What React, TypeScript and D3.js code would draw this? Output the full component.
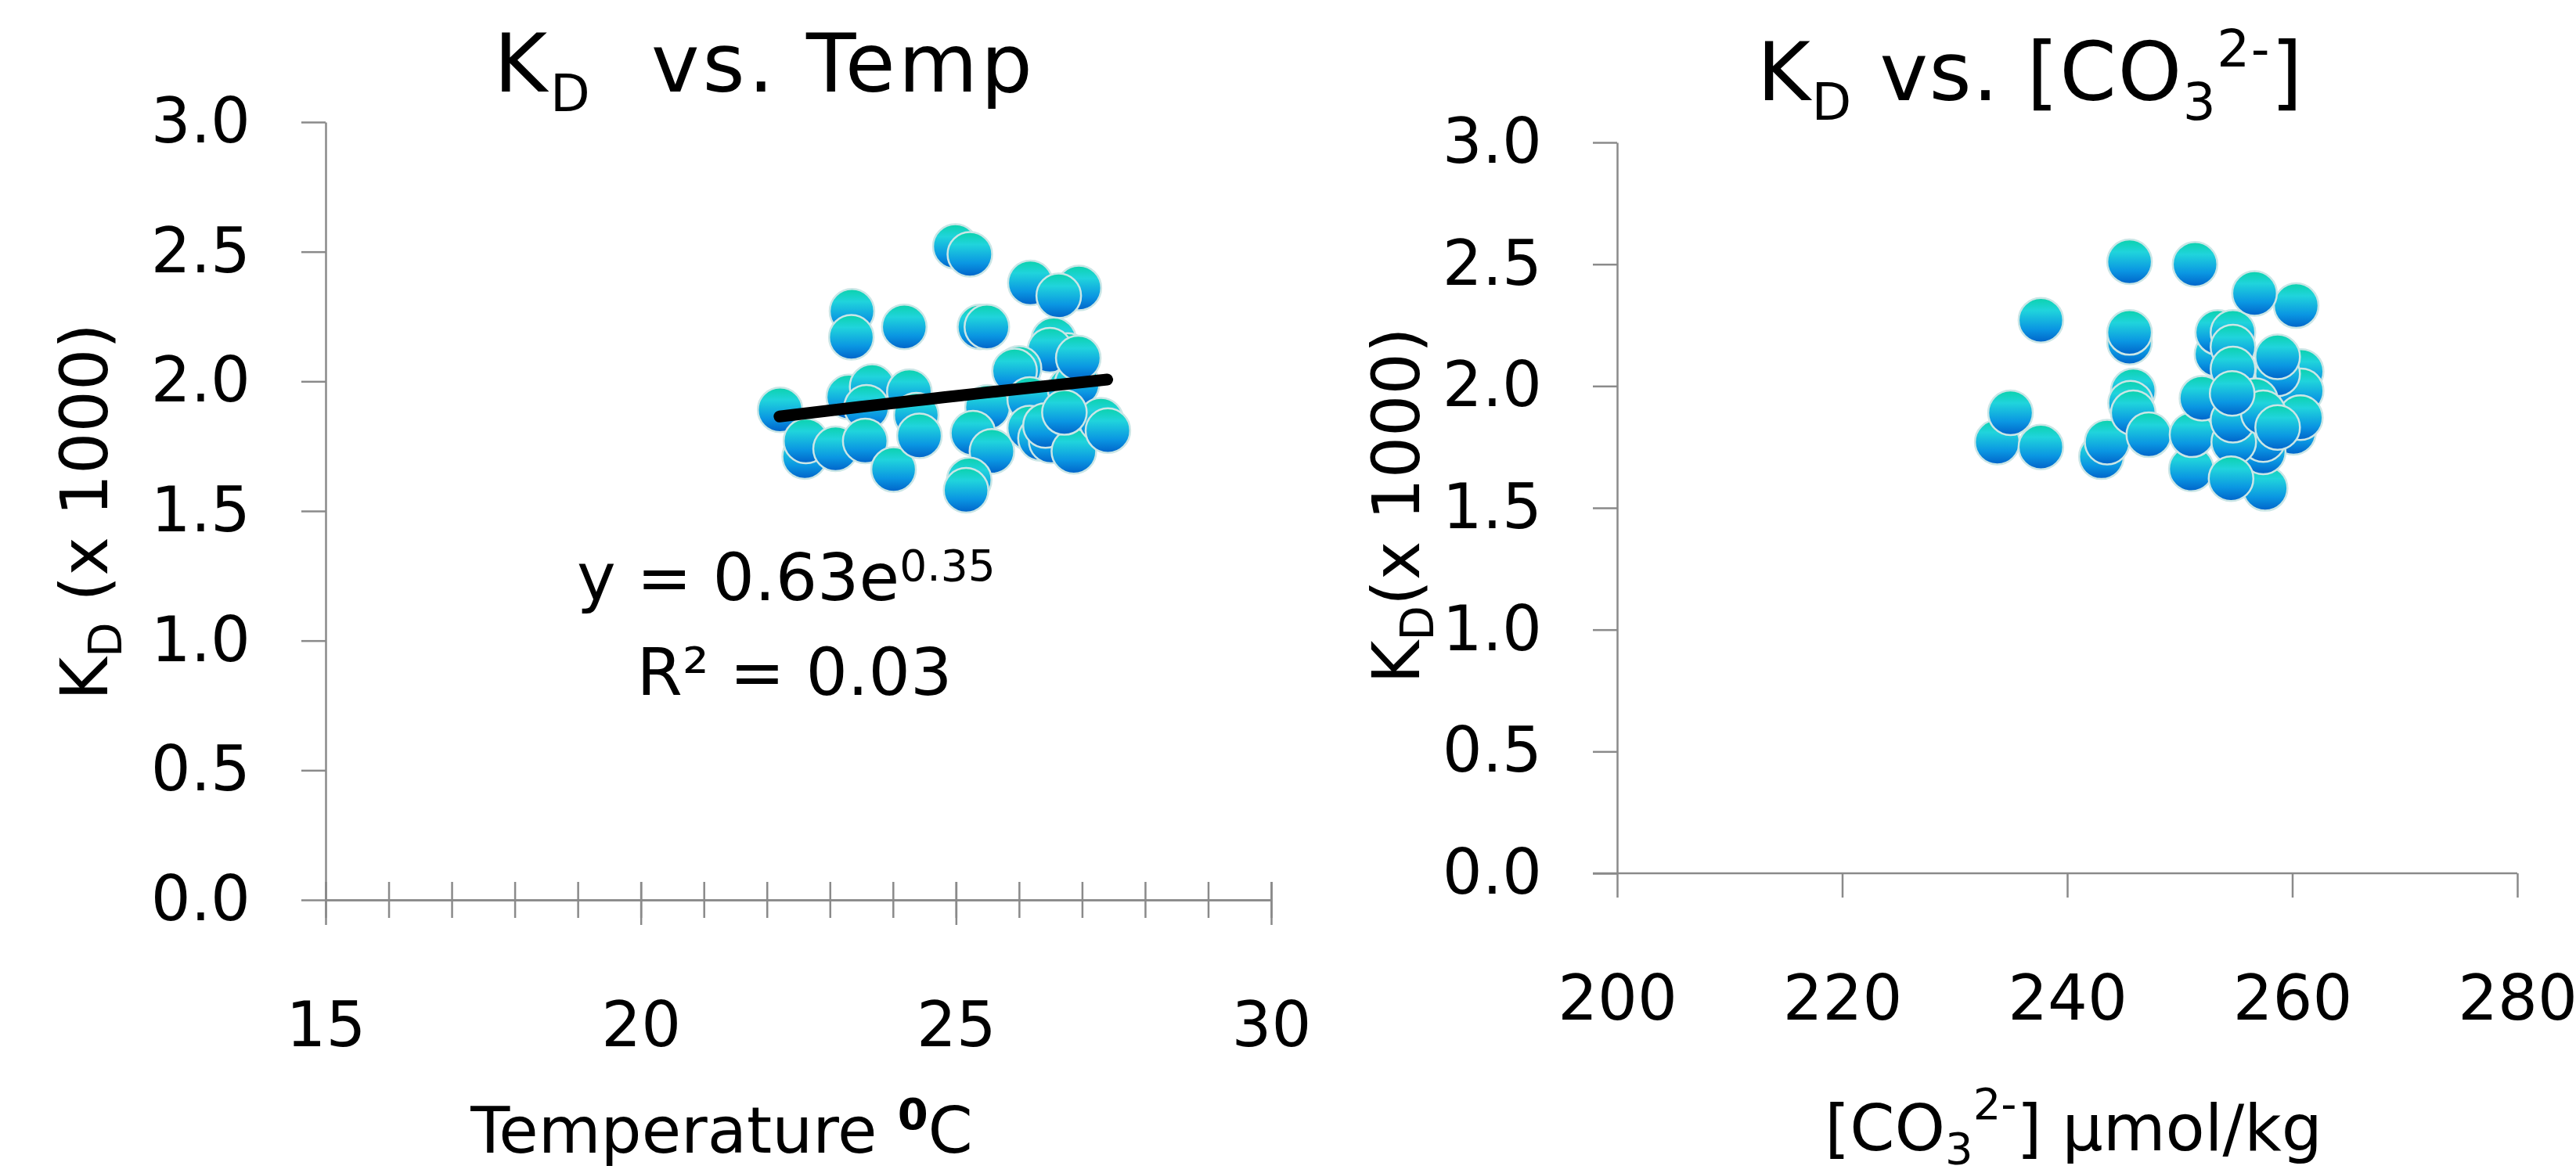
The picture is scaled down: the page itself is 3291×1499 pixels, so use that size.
import { useEffect, useRef } from 'react';
import * as d3 from 'd3';

const WIDTH = 3291;
const HEIGHT = 1499;
const FONT = '"DejaVu Sans", "Liberation Sans", sans-serif';
const AXIS_COLOR = '#8a8a8a';

// left panel: K_D (x 1000) against temperature
const tempC = [
  24.99, 25.22, 26.18, 26.95, 26.63, 23.35, 23.34, 24.18, 25.38, 25.49, 26.55, 26.77,
  26.49, 26.0, 25.93, 22.21, 23.3, 23.67, 24.26, 23.58, 24.37, 22.6, 22.62, 23.09,
  23.56, 24.01, 24.42, 25.5, 25.27, 25.57, 25.21, 25.16, 26.17, 26.81, 26.92, 26.17,
  26.34, 26.51, 26.42, 26.87, 27.3, 27.41, 26.72, 26.94,
];
const tempKd = [
  2.52, 2.49, 2.38, 2.36, 2.33, 2.27, 2.17, 2.21, 2.21, 2.21, 2.16, 2.1,
  2.12, 2.05, 2.04, 1.89, 1.94, 1.98, 1.96, 1.9, 1.87, 1.71, 1.77, 1.74,
  1.77, 1.66, 1.79, 1.9, 1.8, 1.73, 1.62, 1.58, 1.93, 1.97, 1.99, 1.82,
  1.78, 1.77, 1.83, 1.73, 1.85, 1.81, 1.88, 2.09,
];
// power fit printed on the chart
const fitCoef = 0.63;
const fitExp = 0.35;
const fitFrom = 22.2;
const fitTo = 27.4;

// right panel: K_D (x 1000) against carbonate ion
const co3 = [
  233.78, 234.96, 237.66, 237.66, 243.04, 243.55, 245.54, 245.54, 245.54, 245.87,
  245.63, 245.87, 247.25, 251.36, 251.03, 251.09, 251.97, 253.31, 253.38, 254.73,
  254.73, 260.79, 260.79, 260.11, 260.72, 260.35, 256.65, 258.7, 258.7, 254.73,
  256.74, 257.59, 257.42, 257.42, 254.8, 254.73, 257.42, 254.66, 258.7, 254.56,
];
const co3Kd = [
  1.77, 1.89, 1.75, 2.27, 1.71, 1.77, 2.18, 2.22, 2.51, 1.98,
  1.93, 1.89, 1.8, 2.5, 1.66, 1.8, 1.95, 2.13, 2.22, 2.22,
  2.16, 2.06, 1.98, 1.81, 1.87, 2.33, 2.38, 2.05, 2.12, 2.07,
  1.94, 1.58, 1.73, 1.78, 1.77, 1.86, 1.89, 1.97, 1.83, 1.62,
];

const yTicks = [0, 0.5, 1, 1.5, 2, 2.5, 3];
const tempTicks = [15, 20, 25, 30];
const tempMinorTicks = d3.range(15, 31, 1);
const co3Ticks = [200, 220, 240, 260, 280];

const styleAxis = (sel) => {
  sel.select('.domain').attr('stroke', AXIS_COLOR).attr('stroke-width', 2.5);
  sel.selectAll('.tick line').attr('stroke', AXIS_COLOR).attr('stroke-width', 2.5);
  sel
    .selectAll('.tick text')
    .attr('fill', '#000')
    .style('font-family', FONT)
    .style('font-size', '80px');
  sel.attr('font-family', null).attr('font-size', null);
};

const drawPoints = (g, x, y, xs, ys) => {
  g.append('g')
    .selectAll('circle')
    .data(xs.map((v, i) => [v, ys[i]]))
    .join('circle')
    .attr('cx', (d) => x(d[0]))
    .attr('cy', (d) => y(d[1]))
    .attr('r', 28.5)
    .attr('fill', 'url(#ballGrad)')
    .attr('stroke', '#cbe6e6')
    .attr('stroke-width', 2.5);
};

const drawYAxis = (g, x, y, lx, ly, gap) => {
  g.append('g')
    .attr('transform', `translate(${x.range()[0]},0)`)
    .call(
      d3.axisLeft(y).tickValues(yTicks).tickSize(31).tickSizeOuter(0)
        .tickPadding(65).tickFormat(d3.format('.1f'))
    )
    .call(styleAxis);

  // K_D (x 1000)
  const t = g
    .append('text')
    .attr('transform', `translate(${lx},${ly}) rotate(-90)`)
    .attr('text-anchor', 'middle')
    .style('font-family', FONT)
    .style('font-size', '84px');
  t.append('tspan').text('K');
  t.append('tspan').attr('dy', 18).style('font-size', '58px').text('D');
  t.append('tspan').attr('dy', -18).text(`${gap}(x 1000)`);
};

const App = () => {
  const svgRef = useRef(null);

  useEffect(() => {
    document.body.style.margin = '0';
    const svg = d3.select(svgRef.current);
    svg.selectAll('*').remove();

    const defs = svg.append('defs');
    const grad = defs
      .append('linearGradient')
      .attr('id', 'ballGrad')
      .attr('x1', 0).attr('y1', 0).attr('x2', 0).attr('y2', 1);
    [
      ['0%', '#0bd2ac'],
      ['28%', '#20d4dc'],
      ['70%', '#0a96e2'],
      ['100%', '#0063c9'],
    ].forEach(([o, c]) => grad.append('stop').attr('offset', o).attr('stop-color', c));

    // ---------- left panel ----------
    const x1 = d3.scaleLinear().domain([15, 30]).range([416, 1624]);
    const y1 = d3.scaleLinear().domain([0, 3]).range([1150, 156]);
    const left = svg.append('g');

    drawYAxis(left, x1, y1, 137, 654, ' ');

    const minor = left
      .append('g')
      .attr('transform', `translate(0,${y1(0)})`)
      .call(d3.axisBottom(x1).tickValues(tempMinorTicks).tickSize(23).tickSizeOuter(0).tickFormat(() => ''))
      .call(styleAxis);
    minor.selectAll('.tick line').attr('y1', -23);

    const major = left
      .append('g')
      .attr('transform', `translate(0,${y1(0)})`)
      .call(d3.axisBottom(x1).tickValues(tempTicks).tickSize(32).tickSizeOuter(0).tickPadding(98).tickFormat(d3.format('d')))
      .call(styleAxis);
    major.selectAll('.tick line').attr('y1', -23);

    drawPoints(left, x1, y1, tempC, tempKd);

    const fitX = d3.range(0, 21).map((i) => fitFrom + ((fitTo - fitFrom) * i) / 20);
    left
      .append('path')
      .datum(fitX)
      .attr('fill', 'none')
      .attr('stroke', '#000')
      .attr('stroke-width', 15)
      .attr('stroke-linecap', 'round')
      .attr(
        'd',
        d3.line()
          .x((d) => x1(d))
          .y((d) => y1(fitCoef * Math.pow(d, fitExp)))
      );

    const eq = left
      .append('text')
      .attr('x', 737)
      .attr('y', 767)
      .style('font-family', FONT)
      .style('font-size', '84px');
    eq.append('tspan').text(`y = ${fitCoef}e`);
    eq.append('tspan').attr('dy', -25).style('font-size', '55px').text(`${fitExp}`);
    left
      .append('text')
      .attr('x', 1015)
      .attr('y', 888)
      .attr('text-anchor', 'middle')
      .style('font-family', FONT)
      .style('font-size', '84px')
      .text('R² = 0.03');

    const t1 = left
      .append('text')
      .attr('x', 977)
      .attr('y', 117)
      .attr('text-anchor', 'middle')
      .style('font-family', FONT)
      .style('font-size', '104px')
      .style('letter-spacing', '4px');
    t1.append('tspan').text('K');
    t1.append('tspan').attr('dy', 25).style('font-size', '66px').text('D');
    t1.append('tspan').attr('dy', -25).text('\u00a0 vs. Temp');

    const xl1 = left
      .append('text')
      .attr('x', 922)
      .attr('y', 1473)
      .attr('text-anchor', 'middle')
      .style('font-family', FONT)
      .style('font-size', '82px');
    xl1.append('tspan').text('Temperature ');
    xl1.append('tspan').attr('dy', -30).style('font-size', '56px').style('font-weight', 'bold').text('0');
    xl1.append('tspan').attr('dy', 30).text('C');

    // ---------- right panel ----------
    const x2 = d3.scaleLinear().domain([200, 280]).range([2066, 3216]);
    const y2 = d3.scaleLinear().domain([0, 3]).range([1116, 182]);
    const right = svg.append('g');

    drawYAxis(right, x2, y2, 1813, 646, '');

    const xa2 = right
      .append('g')
      .attr('transform', `translate(0,${y2(0)})`)
      .call(d3.axisBottom(x2).tickValues(co3Ticks).tickSize(31).tickSizeOuter(0).tickPadding(99).tickFormat(d3.format('d')))
      .call(styleAxis);
    xa2.select('.domain').attr('d', `M${2035},0H${x2.range()[1]}`);

    drawPoints(right, x2, y2, co3, co3Kd);

    const t2 = right
      .append('text')
      .attr('x', 2594)
      .attr('y', 128)
      .attr('text-anchor', 'middle')
      .style('font-family', FONT)
      .style('font-size', '104px')
      .style('letter-spacing', '1.5px');
    t2.append('tspan').text('K');
    t2.append('tspan').attr('dy', 25).style('font-size', '66px').text('D');
    t2.append('tspan').attr('dy', -25).text(' vs. [CO');
    t2.append('tspan').attr('dy', 25).style('font-size', '66px').text('3');
    t2.append('tspan').attr('dy', -68).style('font-size', '66px').text('2-');
    t2.append('tspan').attr('dy', 43).text(']');

    const xl2 = right
      .append('text')
      .attr('x', 2649)
      .attr('y', 1470)
      .attr('text-anchor', 'middle')
      .style('font-family', FONT)
      .style('font-size', '82px');
    xl2.append('tspan').text('[CO');
    xl2.append('tspan').attr('dy', 17).style('font-size', '56px').text('3');
    xl2.append('tspan').attr('dy', -57).style('font-size', '56px').text('2-');
    xl2.append('tspan').attr('dy', 40).text('] µmol/kg');
  }, []);

  return (
    <svg
      ref={svgRef}
      width={WIDTH}
      height={HEIGHT}
      style={{ display: 'block', position: 'absolute', left: 0, top: 0, background: '#fff' }}
    />
  );
};

export default App;
